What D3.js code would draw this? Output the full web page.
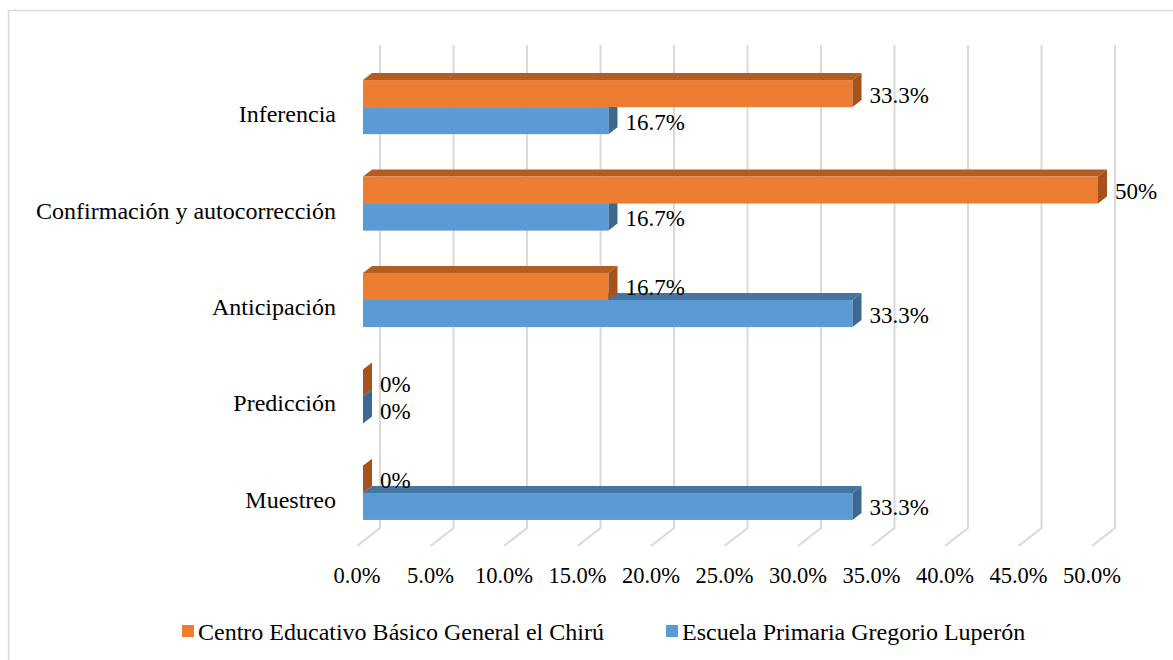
<!DOCTYPE html>
<html>
<head>
<meta charset="utf-8">
<script src="https://cdn.jsdelivr.net/npm/d3@7"></script>
<style>
  html, body { margin: 0; padding: 0; background: #fff; }
  svg { display: block; font-family: "Liberation Serif", "Times New Roman", serif; }
</style>
</head>
<body>
<svg id="chart" width="1173" height="660"></svg>
<script>
// Categories, top to bottom
const categories = ["Inferencia", "Confirmación y autocorrección", "Anticipación", "Predicción", "Muestreo"];
// Series names (legend order)
const seriesNames = ["Centro Educativo Básico General el Chirú", "Escuela Primaria Gregorio Luperón"];
// Percentages per category for each school
const chiruValues   = [33.3, 50, 16.7, 0, 0];
const luperonValues = [16.7, 16.7, 33.3, 0, 33.3];
// Axis ticks (percent)
const tickValues = [0, 5, 10, 15, 20, 25, 30, 35, 40, 45, 50];

const colors = [
  { front: "#ED7D31", top: "#B45D23", side: "#A5521C" },
  { front: "#5B9BD5", top: "#4674A0", side: "#3D6891" }
];

const svg = d3.select("#chart");

// Frame around the chart area
svg.append("rect")
  .attr("x", 8.5).attr("y", 10.5)
  .attr("width", 1180).attr("height", 700)
  .attr("fill", "none").attr("stroke", "#d9d9d9").attr("stroke-width", 1.5);

// Front-face value scale and category bands
const x = d3.scaleLinear().domain([0, 50]).range([363, 1098]);
const y = d3.scaleBand().domain(categories).range([58.9, 541.1]).paddingInner(0.439).paddingOuter(0.2195);
const ySeries = d3.scaleBand().domain([0, 1]).range([0, y.bandwidth()]);

// 3D depth offsets
const dx = 9, dy = 7;          // bar depth
const backDx = 17;             // back wall offset from bar front
const floorDx = -6;            // floor front edge offset from bar front
const wallTop = 45, wallBottom = 528, floorFront = 546;

// Gridlines on the back wall plus their floor segments
const grid = svg.append("g").attr("fill", "none").attr("stroke", "#d9d9d9").attr("stroke-width", 2);
tickValues.forEach(t => {
  const bx = x(t) + backDx;
  grid.append("path")
    .attr("d", `M${bx},${wallTop}L${bx},${wallBottom}L${x(t) + floorDx},${floorFront}`);
});

// Tick labels along the floor front edge
svg.append("g").selectAll("text")
  .data(tickValues).join("text")
  .attr("x", d => x(d) + floorDx)
  .attr("y", 583)
  .attr("text-anchor", "middle")
  .attr("font-size", 22.5)
  .attr("fill", "#000")
  .text(d => d3.format(".1f")(d) + "%");

// Category labels
svg.append("g").selectAll("text")
  .data(categories).join("text")
  .attr("x", 336)
  .attr("y", d => y(d) + y.bandwidth() / 2 + 15)
  .attr("text-anchor", "end")
  .attr("font-size", 24)
  .attr("fill", "#000")
  .text(d => d);

// Bars: lower categories first, and within a category the lower (blue) bar first
const bars = [];
categories.forEach((c, i) => {
  bars.push({ cat: c, s: 0, v: chiruValues[i] });
  bars.push({ cat: c, s: 1, v: luperonValues[i] });
});
bars.sort((a, b) => (categories.indexOf(b.cat) - categories.indexOf(a.cat)) || (b.s - a.s));

const barG = svg.append("g");
bars.forEach(b => {
  const x0 = x(0), x1 = x(b.v);
  const y0 = y(b.cat) + ySeries(b.s);
  const y1 = y0 + ySeries.bandwidth();
  const col = colors[b.s];
  const g = barG.append("g");
  // top face
  g.append("path")
    .attr("d", `M${x0},${y0}L${x0 + dx},${y0 - dy}L${x1 + dx},${y0 - dy}L${x1},${y0}Z`)
    .attr("fill", col.top);
  // front face
  g.append("rect")
    .attr("x", x0).attr("y", y0)
    .attr("width", Math.max(0, x1 - x0)).attr("height", y1 - y0)
    .attr("fill", col.front);
  // right side face
  g.append("path")
    .attr("d", `M${x1},${y0}L${x1 + dx},${y0 - dy}L${x1 + dx},${y1 - dy}L${x1},${y1}Z`)
    .attr("fill", col.side);
});

// Value labels
const fmtVal = v => (Number.isInteger(v) ? d3.format("d")(v) : d3.format(".1f")(v)) + "%";
svg.append("g").selectAll("text")
  .data(bars).join("text")
  .attr("x", d => x(d.v) + 17)
  .attr("y", d => y(d.cat) + ySeries(d.s) + ySeries.bandwidth() / 2 + 9)
  .attr("font-size", 23)
  .attr("fill", "#000")
  .text(d => fmtVal(d.v));

// Legend
const legend = svg.append("g");
const legendItems = [
  { name: seriesNames[0], color: colors[0].front, x: 182 },
  { name: seriesNames[1], color: colors[1].front, x: 666 }
];
legendItems.forEach(it => {
  legend.append("rect")
    .attr("x", it.x).attr("y", 625)
    .attr("width", 12).attr("height", 12)
    .attr("fill", it.color);
  legend.append("text")
    .attr("x", it.x + 16).attr("y", 640)
    .attr("font-size", 24)
    .attr("fill", "#000")
    .text(it.name);
});
</script>
</body>
</html>
